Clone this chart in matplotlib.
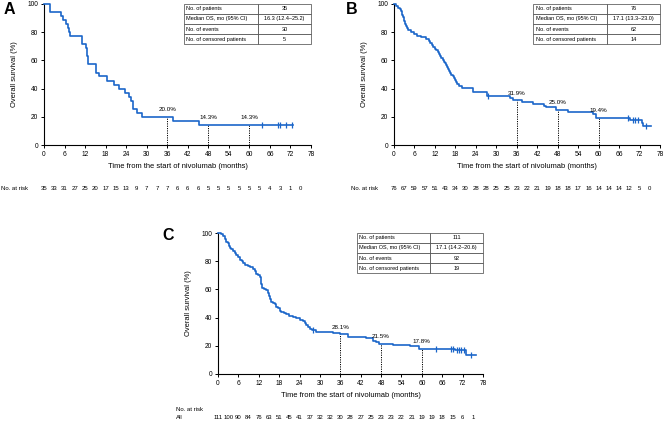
import numpy as np
import matplotlib
matplotlib.use("Agg")
import matplotlib.pyplot as plt
from matplotlib.table import Table

plt.rcParams["font.family"] = ["Liberation Sans", "DejaVu Sans"]

BLUE = "#1b66c9"

# x ticks / number at risk time points
risk_times = np.arange(0, 78, 3)

# ---- panel A (n=35) ----
a_times = [1.8, 4.9, 5.5, 6.3, 6.9, 7.3, 7.6, 11.0, 12.2, 12.5, 12.8, 15.3, 16.2,
           18.5, 20.5, 21.9, 23.7, 24.9, 25.4, 25.9, 27.1, 28.7, 37.6, 45.4]
a_surv = [94.3, 91.4, 88.6, 85.7, 82.9, 80.0, 77.1, 71.4, 68.6, 62.9, 57.1, 51.4, 48.6,
          45.7, 42.9, 40.0, 37.1, 34.3, 31.4, 25.7, 22.9, 20.0, 17.1, 14.3]
a_end = 72.6
a_censor = [63.6, 68.5, 69.0, 70.6, 72.5]
a_risk = [35, 33, 31, 27, 25, 20, 17, 15, 13, 9, 7, 7, 7, 6, 6, 6, 5, 5, 5, 5, 5, 5, 4, 3, 1, 0]
a_landmarks = [36, 48, 60]
a_landmark_vals = [20.0, 14.3, 14.3]
a_summary = ["35", "16.3 (12.4\u201325.2)", "30", "5"]

# ---- panel B (n=76) ----
b_times = [0.7, 1.2, 1.7, 2.0, 2.2, 2.4, 2.6, 2.8, 2.9, 3.1, 3.3, 3.6, 3.8, 4.2, 5.1,
           5.9, 6.8, 8.0, 9.5, 10.3, 10.6, 11.0, 11.4, 11.9, 12.4, 12.8, 13.1, 13.5,
           13.9, 14.3, 14.6, 14.9, 15.2, 15.5, 15.9, 16.2, 16.5, 16.8, 17.2, 17.5,
           17.8, 18.1, 18.6, 19.0, 20.0, 23.2, 27.2, 34.0, 35.0, 37.4, 40.8, 44.0,
           44.6, 47.6, 51.1, 58.4, 59.1, 69.2, 72.6, 73.1]
b_surv = [98.7, 97.4, 96.1, 94.7, 93.4, 92.1, 90.8, 89.5, 88.2, 86.8, 85.5, 84.2, 82.9,
          81.6, 80.3, 78.9, 77.6, 76.3, 75.0, 73.7, 72.4, 71.1, 69.7, 68.4, 67.1, 65.8,
          64.5, 63.2, 61.8, 60.5, 59.2, 57.9, 56.6, 55.3, 53.9, 52.6, 51.3, 50.0, 48.7,
          47.4, 46.1, 44.7, 43.4, 42.1, 40.3, 37.7, 35.0, 33.2, 31.9, 30.6, 29.3, 27.9,
          26.6, 25.0, 23.6, 22.0, 19.4, 17.7, 15.8, 13.6]
b_end = 75.3
b_censor = [27.6, 68.7, 70.2, 70.8, 71.6, 73.9]
b_risk = [76, 67, 59, 57, 51, 43, 34, 30, 28, 28, 25, 25, 23, 22, 21, 19, 18, 18, 17, 16,
          14, 14, 14, 12, 5, 0]
b_landmarks = [36, 48, 60]
b_landmark_vals = [31.9, 25.0, 19.4]
b_summary = ["76", "17.1 (13.3\u201323.0)", "62", "14"]

# ---- panel C (all, n=111) ----
c_times = [1.0, 1.5, 2.0, 2.2, 2.5, 2.8, 3.1, 3.4, 3.9, 4.4, 5.0, 5.4, 5.9, 6.4, 7.0,
           7.5, 8.0, 8.8, 9.5, 10.3, 10.8, 11.3, 11.8, 12.3, 12.6, 12.8, 12.9, 13.5,
           14.2, 14.6, 15.0, 15.3, 15.7, 16.3, 16.7, 17.2, 17.7, 18.2, 18.6, 19.3,
           20.1, 21.0, 22.1, 23.0, 24.0, 25.0, 25.5, 26.0, 26.5, 27.2, 27.8, 28.9,
           33.8, 35.8, 38.3, 43.7, 45.6, 46.6, 47.5, 51.5, 56.4, 59.2, 69.7, 73.0]
c_surv = [99.1, 98.2, 97.3, 95.5, 93.7, 92.8, 91.0, 89.2, 88.3, 87.4, 85.6, 84.7, 82.9,
          81.1, 80.2, 78.4, 77.5, 76.6, 75.7, 74.8, 73.0, 71.2, 70.3, 68.5, 66.7, 64.0,
          61.3, 60.4, 59.5, 57.7, 55.0, 53.2, 51.4, 50.5, 49.5, 47.7, 46.8, 44.9, 44.0,
          43.1, 42.2, 41.3, 40.4, 39.5, 38.5, 37.6, 36.2, 34.8, 33.4, 32.0, 31.0, 30.0,
          29.0, 28.1, 26.4, 25.2, 23.5, 22.5, 21.5, 20.5, 19.6, 17.8, 17.0, 13.4]
c_end = 76.0
c_censor = [27.9, 64.3, 68.6, 69.2, 70.3, 70.9, 71.4, 72.3, 74.6]
c_risk = [111, 100, 90, 84, 76, 63, 51, 45, 41, 37, 32, 32, 30, 28, 27, 25, 23, 23, 22,
          21, 19, 19, 18, 15, 6, 1]
c_landmarks = [36, 48, 60]
c_landmark_vals = [28.1, 21.5, 17.8]
c_summary = ["111", "17.1 (14.2\u201320.6)", "92", "19"]

summary_labels = ["No. of patients", "Median OS, mo (95% CI)", "No. of events",
                  "No. of censored patients"]


def surv_at(times, surv, t):
    idx = np.searchsorted(times, t, side="right")
    return 100.0 if idx == 0 else surv[idx - 1]


def km_panel(ax, times, surv, end, censor, risk, marks, mark_vals, summary,
             risk_group=False):
    x = [0] + list(times) + [end]
    y = [100] + list(surv) + [surv[-1]]
    ax.step(x, y, where="post", color=BLUE, lw=1.2, clip_on=False, zorder=3)
    cy = [surv_at(times, surv, t) for t in censor]
    ax.plot(censor, cy, ls="none", marker="|", ms=5, mew=0.9, color=BLUE,
            clip_on=False, zorder=3)

    for t, v in zip(marks, mark_vals):
        ax.plot([t, t], [0, v], ls=(0, (1.2, 1.2)), color="black", lw=0.7, zorder=2)
        ax.text(t, v + 3.2, f"{v:.1f}%", ha="center", va="bottom", fontsize=4.5)

    ax.set_xlim(0, 78)
    ax.set_ylim(0, 100)
    ax.set_xticks(np.arange(0, 79, 6))
    ax.set_yticks(np.arange(0, 101, 20))
    for s in ["top", "right"]:
        ax.spines[s].set_visible(False)
    for s in ["left", "bottom"]:
        ax.spines[s].set_linewidth(0.8)
    ax.tick_params(labelsize=4.8, length=2.5, width=0.7, pad=1.5)
    ax.set_xlabel("Time from the start of nivolumab (months)", fontsize=5.4)
    ax.set_ylabel("Overall survival (%)", fontsize=5.4)
    ax.xaxis.set_label_coords(0.5, -0.125)
    ax.yaxis.set_label_coords(-0.098, 0.5)

    tr = ax.get_xaxis_transform()
    for t, n in zip(risk_times, risk):
        ax.text(t, -0.305, str(n), transform=tr, ha="center", va="center",
                fontsize=4.3)
    if risk_group:
        ax.text(-0.158, -0.255, "No. at risk", transform=ax.transAxes, ha="left",
                va="center", fontsize=4.3)
        ax.text(-0.158, -0.305, "All", transform=ax.transAxes, ha="left",
                va="center", fontsize=4.3)
    else:
        ax.text(-0.162, -0.305, "No. at risk", transform=ax.transAxes, ha="left",
                va="center", fontsize=4.3)

    tbl = Table(ax, bbox=[0.524, 0.713, 0.476, 0.29])
    for r, (lab, val) in enumerate(zip(summary_labels, summary)):
        c0 = tbl.add_cell(r, 0, 0.583, 0.25, text=lab, loc="left",
                          edgecolor="#444444")
        c1 = tbl.add_cell(r, 1, 0.417, 0.25, text=val, loc="center",
                          edgecolor="#444444")
        c0.PAD = 0.03
        for c in (c0, c1):
            c.set_linewidth(0.5)
    tbl.auto_set_font_size(False)
    tbl.set_fontsize(4)
    ax.add_table(tbl)


fig = plt.figure(figsize=(6.66, 4.21), dpi=100)
ax_a = fig.add_axes([44 / 666, 1 - 145 / 421, 267 / 666, 141 / 421])
ax_b = fig.add_axes([394 / 666, 1 - 145 / 421, 266 / 666, 141 / 421])
ax_c = fig.add_axes([218 / 666, 1 - 374 / 421, 265 / 666, 141 / 421])

km_panel(ax_a, a_times, a_surv, a_end, a_censor, a_risk, a_landmarks,
         a_landmark_vals, a_summary)
km_panel(ax_b, b_times, b_surv, b_end, b_censor, b_risk, b_landmarks,
         b_landmark_vals, b_summary)
km_panel(ax_c, c_times, c_surv, c_end, c_censor, c_risk, c_landmarks,
         c_landmark_vals, c_summary, risk_group=True)

fig.text(9 / 666, 1 - 10 / 421, "A", fontsize=11.5, fontweight="bold",
         ha="center", va="center")
fig.text(352 / 666, 1 - 9 / 421, "B", fontsize=11.5, fontweight="bold",
         ha="center", va="center")
fig.text(168 / 666, 1 - 235 / 421, "C", fontsize=11.5, fontweight="bold",
         ha="center", va="center")

fig.savefig("out.png", dpi=100, facecolor="white")
